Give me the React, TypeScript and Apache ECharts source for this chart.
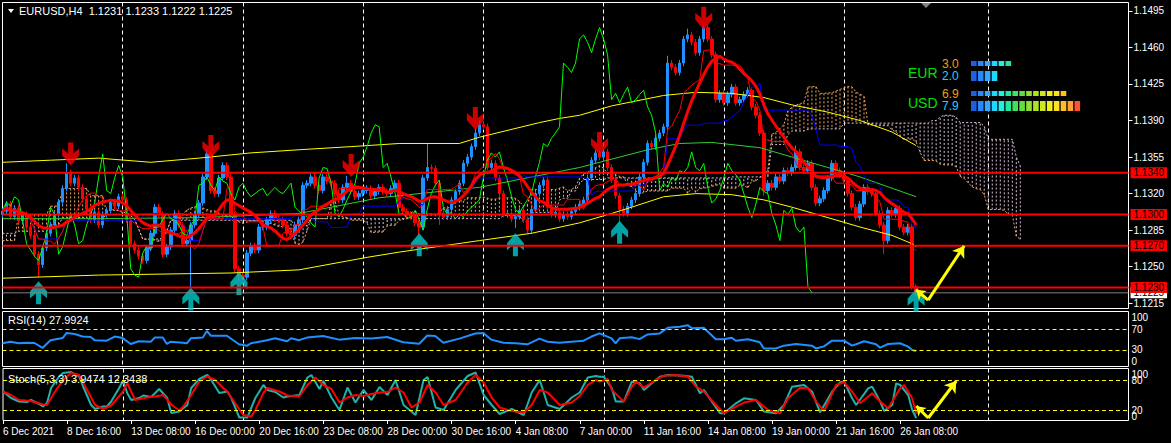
import React, { useEffect, useRef } from 'react';
import * as echarts from 'echarts';

const FONT = 'Liberation Sans, Arial, sans-serif';

// ---------------- time axis ----------------
const tickLabels = ['6 Dec 2021', '8 Dec 16:00', '13 Dec 08:00', '16 Dec 00:00', '20 Dec 16:00', '23 Dec 08:00', '28 Dec 00:00', '30 Dec 16:00', '4 Jan 08:00', '7 Jan 00:00', '11 Jan 16:00', '14 Jan 08:00', '19 Jan 00:00', '21 Jan 16:00', '26 Jan 08:00'];
const LABEL_EVERY = 16;
const SLOT_COUNT = 282;
const weekGridBars = [30, 60, 90, 120, 150, 180, 210, 246];

// ---------------- price axis ----------------
const priceTicks = [1.1215, 1.125, 1.1285, 1.132, 1.1355, 1.139, 1.1425, 1.146, 1.1495];
const PRICE_MIN = 1.121;
const PRICE_MAX = 1.1503;
const levelLines = [1.134, 1.13, 1.127, 1.123];
const bidPrice = 1.1225;

// ---------------- candles (H4 closes) ----------------
const firstOpen = 1.13;
const closes = [
  1.1303, 1.1310, 1.1298, 1.1306, 1.1294, 1.1300, 1.1288, 1.1280, 1.1262, 1.1252,
  1.1268, 1.1282, 1.1290, 1.1300, 1.1312, 1.1325, 1.1340, 1.1330, 1.1335, 1.1326,
  1.1315, 1.1305, 1.1295, 1.1302, 1.1290, 1.1300, 1.1304, 1.1312, 1.1308, 1.1317,
  1.1314, 1.1295, 1.1272, 1.1266, 1.1260, 1.1256, 1.1268, 1.1282, 1.1307, 1.1300,
  1.1262, 1.1269, 1.1285, 1.1301, 1.1290, 1.1272, 1.1275, 1.1290, 1.1300, 1.1311,
  1.1336, 1.1358, 1.1323, 1.1320, 1.1335, 1.1347, 1.1336, 1.1300, 1.1248, 1.1242,
  1.1240, 1.1263, 1.1270, 1.1266, 1.1288, 1.1288, 1.1295, 1.1301, 1.1296, 1.1295,
  1.1290, 1.1282, 1.1280, 1.1290, 1.1295, 1.1328, 1.1330, 1.1336, 1.1328, 1.1323,
  1.1336, 1.1332, 1.1330, 1.1320, 1.1314, 1.1326, 1.1330, 1.1322, 1.1317, 1.1320,
  1.1323, 1.1325, 1.1318, 1.1322, 1.1326, 1.1322, 1.1320, 1.1325, 1.1330, 1.1307,
  1.1303, 1.1300, 1.1298, 1.1292, 1.1288, 1.1335, 1.1345, 1.1344, 1.1330, 1.1301,
  1.1298, 1.1305, 1.1314, 1.1322, 1.1330, 1.1349, 1.1355, 1.1365, 1.1378, 1.1386,
  1.1384, 1.1345, 1.1349, 1.1335, 1.1320, 1.1300, 1.1301, 1.1296, 1.1298, 1.1304,
  1.1295, 1.1285, 1.1305, 1.1320, 1.1328, 1.1333, 1.1307, 1.1300, 1.1302, 1.1296,
  1.1300, 1.1298, 1.1303, 1.1307, 1.1310, 1.1314, 1.1335, 1.1352, 1.1359, 1.1355,
  1.1360, 1.1345, 1.1333, 1.1318, 1.1305, 1.1301, 1.1308, 1.1314, 1.1320, 1.1336,
  1.1350, 1.1368, 1.1365, 1.1373, 1.1378, 1.1384, 1.1445, 1.1441, 1.1436, 1.1445,
  1.1468, 1.1472, 1.1465, 1.1455, 1.1468, 1.1479, 1.1468, 1.1453, 1.1410, 1.1416,
  1.1407, 1.1415, 1.1422, 1.1407, 1.1410, 1.1415, 1.1419, 1.1403, 1.1395, 1.1378,
  1.1323, 1.1330, 1.1326, 1.1336, 1.1332, 1.1342, 1.1340, 1.1345, 1.1360, 1.1345,
  1.1342, 1.1349, 1.1326, 1.1311, 1.1315, 1.1323, 1.1335, 1.1349, 1.1342, 1.1338,
  1.1333, 1.1320, 1.1307, 1.1297, 1.1310, 1.1326, 1.1322, 1.1320, 1.1301, 1.1290,
  1.1275, 1.1304, 1.1300, 1.1306, 1.1288, 1.1283, 1.1288, 1.1231, 1.1225,
];
const highSpikes = [[16, 1.1349], [51, 1.1362], [86, 1.1337], [106, 1.1368], [118, 1.1382], [119, 1.139], [149, 1.1362], [166, 1.1452], [171, 1.1478], [175, 1.1481], [189, 1.1398], [198, 1.1366], [228, 1.1233]];
const lowSpikes = [[9, 1.124], [47, 1.123], [59, 1.1236], [104, 1.128], [109, 1.129], [128, 1.1287], [154, 1.1293], [190, 1.1318], [220, 1.1262], [227, 1.1228], [228, 1.1222]];
const WICK = 0.0003;

// signal arrows [bar, price at arrow tip]
const redArrows = [[17, 1.1347], [52, 1.1354], [87, 1.1336], [118, 1.1381], [149, 1.1357], [175, 1.1477]];
const cyanArrows = [[9, 1.1236], [47, 1.123], [59, 1.1245], [104, 1.1282], [128, 1.1282], [154, 1.1294], [228, 1.1229]];

// Bollinger-type bands [bar, price]
const bbUpper = [[0, 1.135], [12, 1.1352], [24, 1.1354], [37, 1.135], [49, 1.1354], [62, 1.1359], [74, 1.1362], [87, 1.1365], [99, 1.1368], [114, 1.1368], [119, 1.1374], [134, 1.1388], [139, 1.1392], [144, 1.1395], [152, 1.1404], [165, 1.1414], [173, 1.1417], [182, 1.1416], [190, 1.1412], [197, 1.1405], [206, 1.1398], [214, 1.139], [222, 1.1379], [228, 1.1366]];
const bbLower = [[0, 1.1239], [24, 1.1242], [57, 1.1244], [74, 1.1247], [91, 1.1259], [99, 1.1264], [119, 1.1275], [132, 1.1282], [144, 1.1292], [152, 1.1301], [157, 1.1307], [165, 1.1317], [173, 1.132], [182, 1.1319], [190, 1.1314], [197, 1.1307], [206, 1.1297], [214, 1.1288], [222, 1.128], [227, 1.1272], [228, 1.1269]];
const bbMiddle = [[0, 1.1296], [24, 1.1296], [49, 1.1297], [74, 1.1301], [94, 1.1316], [119, 1.1326], [144, 1.1345], [161, 1.1362], [169, 1.1368], [177, 1.1369], [189, 1.1364], [206, 1.1345], [214, 1.1336], [228, 1.1317]];

// cloud before the first computable value (bars 0..25)
const earlySpanA = [1.1275, 1.1275, 1.1275, 1.1275, 1.13, 1.13, 1.13, 1.13, 1.13, 1.13, 1.13, 1.13, 1.1308, 1.1308, 1.1308, 1.1325, 1.1325, 1.1325, 1.1325, 1.1325, 1.1325, 1.1325, 1.1318, 1.1318, 1.1318, 1.1318];
const earlySpanB = [1.1282, 1.1282, 1.1282, 1.1282, 1.1284, 1.1284, 1.1284, 1.1284, 1.1284, 1.1284, 1.1284, 1.1284, 1.129, 1.129, 1.129, 1.1297, 1.1297, 1.1297, 1.1297, 1.1297, 1.1297, 1.1297, 1.1295, 1.1295, 1.1295, 1.1295];
const SMA_PERIOD = 14;

// RSI(14) [bar, value]
const rsiPoints = [[0, 43], [2, 46], [4, 43], [6, 44], [8, 43.5], [10, 34], [11, 41.6], [12, 49], [15, 53], [16, 63], [18, 61], [20, 56], [22, 55], [23, 49], [26, 48], [28, 56], [30, 53], [32, 41.6], [34, 47], [37, 46], [38, 54], [40, 54], [41, 41.6], [42, 46], [45, 44], [46, 43], [47, 52.6], [50, 54], [51, 66.7], [52, 57.6], [56, 57.6], [59, 41], [61, 38], [62, 43], [66, 49], [68, 52.6], [71, 47], [72, 52.6], [74, 49],
  [76, 54], [80, 57], [84, 50], [88, 53], [92, 52], [96, 55], [100, 45], [104, 42], [106, 58], [108, 57], [110, 44], [114, 52], [118, 62], [120, 63], [122, 50], [125, 44], [128, 43], [131, 41], [134, 52], [136, 46], [139, 44], [142, 46], [145, 48], [147, 56],
  [149, 62], [152, 52.5], [153, 43], [154, 52.5], [157, 54.6], [159, 51], [161, 60], [164, 62], [166, 73], [169, 75], [171, 78], [172, 72], [175, 73], [178, 50.6], [180, 50.6], [182, 53.8], [183, 48], [186, 50.6], [189, 45], [190, 33], [193, 33], [195, 38.4], [198, 41.6], [202, 38.4], [203, 33], [205, 37], [207, 48], [210, 48], [212, 38.4], [213, 41], [215, 47], [218, 41], [219, 34.6], [221, 41.6], [224, 43], [226, 36.5], [227, 30], [228, 28]];
const rsiLast = 27.9924;
const rsiTicks = [0, 30, 70, 100];
const rsiLevels = [30, 70];

// Stochastic(5,3,3) [bar, value]
const stochK = [[0, 57], [2, 44], [4, 37], [6, 36], [7, 40], [9, 32], [10, 27], [11, 34], [12, 64], [14, 87], [15, 94], [17, 96], [19, 87], [20, 67], [22, 30], [23, 22], [25, 27], [26, 27], [27, 37], [29, 64], [30, 79], [31, 54], [32, 40], [34, 44], [35, 49], [37, 46], [39, 62], [41, 44], [42, 14], [44, 17], [46, 30], [47, 64], [49, 82], [51, 90], [52, 80], [54, 54], [56, 57], [57, 44], [59, 5], [61, 5], [63, 44], [65, 70], [66, 60], [68, 56], [70, 45], [71, 47], [74, 50],
  [76, 85], [77, 90], [79, 62], [80, 78], [82, 45], [84, 20], [86, 65], [88, 35], [90, 60], [92, 40], [94, 66], [96, 50], [98, 80], [100, 30], [103, 10], [105, 80], [106, 86], [108, 25], [110, 20], [113, 60], [116, 88], [118, 95], [120, 50], [122, 30], [124, 12], [127, 22], [130, 10], [132, 55], [134, 80], [136, 30], [139, 22], [142, 45], [144, 55], [146, 85], [148, 88],
  [149, 86.7], [150, 86.7], [152, 63.4], [153, 36.8], [155, 36.8], [157, 76.7], [159, 73.4], [160, 60], [162, 73.4], [164, 86.7], [166, 90], [170, 88.7], [172, 86.7], [174, 53.4], [175, 60], [177, 36.8], [179, 13.5], [180, 13.5], [183, 33.4], [185, 43.4], [188, 40], [190, 16.8], [193, 13.5], [195, 30], [197, 66.7], [200, 70], [202, 56.7], [204, 15.4], [207, 56.7], [209, 75.4], [210, 76.7], [212, 43.4], [213, 30], [216, 63.4], [217, 66.7], [219, 36.8], [220, 18], [222, 30], [223, 73.4], [224, 70], [226, 50], [227, 20], [228, 3.9474]];
const stochD = [[0, 57], [2, 50], [4, 40], [7, 38], [10, 31], [11, 30], [13, 57], [15, 80], [17, 94], [19, 90], [21, 60], [23, 30], [25, 22], [27, 29], [30, 57], [31, 74], [32, 57], [33, 40], [36, 45], [38, 47], [40, 50], [42, 31], [44, 19], [45, 27], [47, 50], [49, 77], [51, 87], [53, 80], [55, 64], [56, 57], [58, 33], [60, 10], [62, 7], [63, 20], [65, 54], [66, 64], [69, 57], [71, 49], [74, 47],
  [76, 70], [78, 85], [80, 70], [82, 62], [84, 35], [86, 45], [88, 50], [90, 48], [92, 52], [94, 55], [96, 56], [98, 65], [100, 55], [102, 25], [104, 35], [106, 70], [108, 55], [110, 30], [113, 40], [116, 75], [118, 90], [120, 75], [122, 45], [124, 25], [127, 18], [130, 15], [132, 30], [134, 60], [136, 55], [139, 30], [142, 35], [144, 48], [146, 70], [148, 80],
  [149, 76.7], [151, 82], [152, 60], [155, 36.8], [157, 66.7], [158, 76.7], [160, 64.7], [163, 80], [165, 88.7], [168, 90], [171, 86.7], [173, 66.7], [175, 56.7], [178, 30], [180, 13.5], [183, 26.8], [185, 34.8], [188, 40], [191, 20], [194, 13.5], [196, 43.4], [199, 64.7], [201, 63.4], [203, 36.8], [205, 18], [208, 70], [210, 75.4], [212, 56.7], [214, 33.4], [217, 53.4], [219, 36.8], [221, 23.4], [224, 63.4], [225, 70], [227, 43.4], [228, 12.3438]];
const stochKLast = 3.9474;
const stochDLast = 12.3438;
const stochLevels = [20, 80];
const stochScaleEnds = [100, 0];

// hand-drawn yellow arrows
const mainArrow = [[228, 1.1228], [231, 1.1218], [240, 1.127]];
const stochArrow = [[228, 28], [231, 4], [238, 78]];

// currency strength meter
const meterCurrencies = ['EUR', 'USD'];
const meterTop = [3.0, 6.9];
const meterBottom = [2.0, 7.9];
const meterColors = ['#2060e0', '#2888ff', '#30a8ff', '#20d8ff', '#20f0e0', '#20e8a0', '#40e060', '#60e040', '#90e030', '#b0e020', '#d0e820', '#f0f020', '#ffe020', '#ffc020', '#ffa030', '#ff5030'];

// ---------------- derived ----------------
const N = closes.length;
const opens = closes.map((c, i) => (i === 0 ? firstOpen : closes[i - 1]));
const highs = closes.map((c, i) => Math.max(opens[i], c) + WICK);
const lows = closes.map((c, i) => Math.min(opens[i], c) - WICK);
highSpikes.forEach(([i, v]) => { highs[i] = Math.max(v, opens[i], closes[i]); });
lowSpikes.forEach(([i, v]) => { lows[i] = Math.min(v, opens[i], closes[i]); });

function midRange(end: number, len: number) {
  const s = Math.max(0, end - len + 1);
  let mx = -Infinity;
  let mn = Infinity;
  for (let k = s; k <= end; k++) {
    mx = Math.max(mx, highs[k]);
    mn = Math.min(mn, lows[k]);
  }
  return (mx + mn) / 2;
}
const tenkan = closes.map((_, i) => midRange(i, 9));
const kijun = closes.map((_, i) => midRange(i, 26));
const spanA: number[] = [];
const spanB: number[] = [];
for (let i = 0; i < 26; i++) { spanA[i] = earlySpanA[i]; spanB[i] = earlySpanB[i]; }
for (let i = 0; i < N; i++) {
  spanA[i + 26] = (tenkan[i] + kijun[i]) / 2;
  spanB[i + 26] = midRange(i, 52);
}
const sma = closes.map((_, i) => {
  const s = Math.max(0, i - SMA_PERIOD + 1);
  let t = 0;
  for (let k = s; k <= i; k++) t += closes[k];
  return t / (i - s + 1);
});
const chikou = closes.slice(26).map((c, j) => [j, c]);

const isLabelBar = (i: number) => i % LABEL_EVERY === 0 && i / LABEL_EVERY < tickLabels.length;
const weekSet = new Set(weekGridBars);
const xCats = Array.from({ length: SLOT_COUNT }, (_, i) => String(i));

function oscLabel(v: number, top: number, bottom: number) {
  if (v === top) return `{t|${v}}`;
  if (v === bottom) return `{b|${v}}`;
  return String(v);
}

function buildOption() {
  const gridBase = { show: true, borderColor: '#ffffff', borderWidth: 1, backgroundColor: 'transparent' };
  const grid = [
    { ...gridBase, left: 2.5, top: 2.5, width: 1126, height: 306 },
    { ...gridBase, left: 2.5, top: 311.5, width: 1126, height: 55 },
    { ...gridBase, left: 2.5, top: 368.5, width: 1126, height: 52 },
  ];
  const xAxis = [0, 1, 2].map((gi) => ({
    type: 'category',
    gridIndex: gi,
    data: xCats,
    boundaryGap: false,
    axisLine: { show: false },
    axisTick: gi === 2
      ? { show: true, interval: (i: number) => isLabelBar(i), length: 4, lineStyle: { color: '#ffffff' } }
      : { show: false },
    axisLabel: gi === 2
      ? {
        show: true,
        interval: (i: number) => isLabelBar(i),
        formatter: (v: string) => { const i = Number(v); return isLabelBar(i) ? tickLabels[i / LABEL_EVERY] : ''; },
        color: '#ffffff', fontSize: 10, fontFamily: FONT, align: 'left', margin: 6,
      }
      : { show: false },
    splitLine: { show: true, interval: (i: number) => weekSet.has(i), lineStyle: { color: '#ffffff', type: [4, 3], width: 1 } },
  }));
  const yLabel = { color: '#ffffff', fontSize: 10, fontFamily: FONT, margin: 5 };
  const yAxis = [
    {
      type: 'value', gridIndex: 0, position: 'right', min: PRICE_MIN, max: PRICE_MAX,
      axisLine: { show: false }, splitLine: { show: false },
      axisTick: { show: true, length: 4, lineStyle: { color: '#ffffff' }, customValues: priceTicks },
      axisLabel: { ...yLabel, customValues: priceTicks, formatter: (v: number) => v.toFixed(4) },
    },
    {
      type: 'value', gridIndex: 1, position: 'right', min: -1.9, max: 104.4,
      axisLine: { show: false }, splitLine: { show: false },
      axisTick: { show: false, customValues: rsiTicks },
      axisLabel: {
        ...yLabel, margin: 3, customValues: rsiTicks,
        formatter: (v: number) => oscLabel(v, 100, 0),
        rich: { t: { padding: [8, 0, 0, 0], fontSize: 10, color: '#ffffff' }, b: { padding: [0, 0, 8, 0], fontSize: 10, color: '#ffffff' } },
      },
    },
    {
      type: 'value', gridIndex: 2, position: 'right', min: -1, max: 103,
      axisLine: { show: false }, splitLine: { show: false },
      axisTick: { show: false, customValues: stochLevels },
      axisLabel: { ...yLabel, margin: 3, customValues: stochLevels, formatter: (v: number) => String(v) },
    },
  ];

  const cloudData = spanA.map((a, i) => [i, a, spanB[i]]);
  const lineBase = { type: 'line', symbol: 'none', silent: true, smooth: false, xAxisIndex: 0, yAxisIndex: 0 };
  const arrowDown = 'path://M6,0 L11,0 L11,11 L17,6 L17,13 L8.5,23 L0,13 L0,6 L6,11 Z';
  const arrowUp = 'path://M6,23 L11,23 L11,12 L17,17 L17,10 L8.5,0 L0,10 L0,17 L6,12 Z';

  const levelSeries = (v: number, color: string, width: number, bg: string, z: number) => ({
    ...lineBase, z,
    data: [[0, v], [SLOT_COUNT - 1, v]],
    lineStyle: { color, width, type: 'solid' },
    endLabel: {
      show: true, distance: 2, fontSize: 10, fontFamily: FONT, color: '#000000',
      backgroundColor: bg, padding: [1, 3, 0, 3],
      formatter: (p: any) => Number(p.value[1]).toFixed(4),
    },
  });

  const series: any[] = [
    {
      type: 'custom', xAxisIndex: 0, yAxisIndex: 0, clip: true, silent: true, z: 1,
      data: cloudData,
      encode: { x: 0, y: [1, 2] },
      renderItem: (params: any, api: any) => {
        const i = api.value(0);
        const a = api.value(1);
        const b = api.value(2);
        const p1 = api.coord([i, a]);
        const p2 = api.coord([i, b]);
        return {
          type: 'line',
          shape: { x1: p1[0], y1: p1[1], x2: p2[0], y2: p2[1] },
          style: { stroke: a >= b ? '#f4a460' : '#d8bfd8', lineWidth: 1, lineDash: [2, 2] },
        };
      },
    },
    { ...lineBase, z: 1, data: spanA.map((v, i) => [i, v]), lineStyle: { color: '#f4a460', width: 1, type: [2, 2] } },
    { ...lineBase, z: 1, data: spanB.map((v, i) => [i, v]), lineStyle: { color: '#d8bfd8', width: 1, type: [2, 2] } },
    {
      type: 'candlestick', xAxisIndex: 0, yAxisIndex: 0, barWidth: 3, silent: true, z: 2,
      data: closes.map((c, i) => [opens[i], c, lows[i], highs[i]]),
      itemStyle: { color: '#1e90ff', borderColor: '#1e90ff', color0: '#ff0000', borderColor0: '#ff0000', borderWidth: 1 },
    },
    { ...lineBase, z: 3, data: bbUpper, lineStyle: { color: '#ffff00', width: 1 } },
    { ...lineBase, z: 3, data: bbLower, lineStyle: { color: '#ffff00', width: 1 } },
    { ...lineBase, z: 3, data: bbMiddle, lineStyle: { color: '#32cd32', width: 1 } },
    { ...lineBase, z: 3, data: chikou, lineStyle: { color: '#00ff00', width: 1 } },
    { ...lineBase, z: 3, data: kijun.map((v, i) => [i, v]), lineStyle: { color: '#0000ff', width: 1 } },
    { ...lineBase, z: 3, data: tenkan.map((v, i) => [i, v]), lineStyle: { color: '#ff0000', width: 1 } },
    { ...lineBase, z: 3, data: sma.map((v, i) => [i, v]), lineStyle: { color: '#ff0000', width: 3 } },
    {
      type: 'scatter', xAxisIndex: 0, yAxisIndex: 0, silent: true, z: 4,
      data: redArrows, symbol: arrowDown, symbolSize: [17, 23], symbolOffset: [0, '-50%'],
      itemStyle: { color: '#ff0000' },
    },
    {
      type: 'scatter', xAxisIndex: 0, yAxisIndex: 0, silent: true, z: 4,
      data: cyanArrows, symbol: arrowUp, symbolSize: [17, 23], symbolOffset: [0, '50%'],
      itemStyle: { color: '#00cccc' },
    },
    levelSeries(bidPrice, '#808080', 1, '#ffffff', 5),
    ...levelLines.map((v) => levelSeries(v, '#ff0000', 2, '#ff0000', 6)),
    {
      type: 'lines', coordinateSystem: 'cartesian2d', xAxisIndex: 0, yAxisIndex: 0, silent: true, z: 7,
      symbol: ['arrow', 'none'], symbolSize: 9,
      lineStyle: { color: '#ffff00', width: 3, opacity: 1 },
      data: [{ coords: [mainArrow[0], mainArrow[1]] }],
    },
    {
      type: 'lines', coordinateSystem: 'cartesian2d', xAxisIndex: 0, yAxisIndex: 0, silent: true, z: 7,
      symbol: ['none', 'arrow'], symbolSize: 11,
      lineStyle: { color: '#ffff00', width: 3, opacity: 1 },
      data: [{ coords: [mainArrow[1], mainArrow[2]] }],
    },
    // RSI
    {
      type: 'line', xAxisIndex: 1, yAxisIndex: 1, symbol: 'none', silent: true, z: 3,
      data: rsiPoints, lineStyle: { color: '#1e90ff', width: 2 },
      markLine: {
        silent: true, symbol: ['none', 'none'], animation: false, label: { show: false },
        lineStyle: { color: '#ffff00', width: 1, type: [4, 3] },
        data: rsiLevels.map((v) => ({ yAxis: v })),
      },
    },
    // Stochastic
    {
      type: 'line', xAxisIndex: 2, yAxisIndex: 2, symbol: 'none', silent: true, z: 3,
      data: stochK, lineStyle: { color: '#20b2aa', width: 2 },
      markLine: {
        silent: true, symbol: ['none', 'none'], animation: false, label: { show: false },
        lineStyle: { color: '#ffff00', width: 1, type: [4, 3] },
        data: stochLevels.map((v) => ({ yAxis: v })),
      },
    },
    { type: 'line', xAxisIndex: 2, yAxisIndex: 2, symbol: 'none', silent: true, z: 4, data: stochD, lineStyle: { color: '#ff0000', width: 2 } },
    {
      type: 'lines', coordinateSystem: 'cartesian2d', xAxisIndex: 2, yAxisIndex: 2, silent: true, z: 6,
      symbol: ['arrow', 'none'], symbolSize: 9,
      lineStyle: { color: '#ffff00', width: 3, opacity: 1 },
      data: [{ coords: [stochArrow[0], stochArrow[1]] }],
    },
    {
      type: 'lines', coordinateSystem: 'cartesian2d', xAxisIndex: 2, yAxisIndex: 2, silent: true, z: 6,
      symbol: ['none', 'arrow'], symbolSize: 11,
      lineStyle: { color: '#ffff00', width: 3, opacity: 1 },
      data: [{ coords: [stochArrow[1], stochArrow[2]] }],
    },
  ];

  const last = N - 1;
  const f4 = (v: number) => v.toFixed(4);
  const graphic: any[] = [
    { type: 'polygon', z: 100, shape: { points: [[8, 9], [14, 9], [11, 13]] }, style: { fill: '#ffffff' } },
    {
      type: 'text', z: 100, x: 19, y: 11,
      style: { text: `EURUSD,H4  ${f4(opens[last])} ${f4(highs[last])} ${f4(lows[last])} ${f4(closes[last])}`, fill: '#ffffff', fontSize: 11, fontFamily: FONT, verticalAlign: 'middle' },
    },
    { type: 'polygon', z: 100, shape: { points: [[921, 3], [931, 3], [926, 8]] }, style: { fill: '#808080' } },
    {
      type: 'text', z: 100, x: 8, y: 320,
      style: { text: `RSI(14) ${rsiLast.toFixed(4)}`, fill: '#ffffff', fontSize: 11, fontFamily: FONT, verticalAlign: 'middle' },
    },
    {
      type: 'text', z: 100, x: 8, y: 379,
      style: { text: `Stoch(5,3,3) ${stochKLast.toFixed(4)} ${stochDLast.toFixed(4)}`, fill: '#ffffff', fontSize: 11, fontFamily: FONT, verticalAlign: 'middle' },
    },
    // stochastic scale ends, drawn just inside the panel as in the terminal
    {
      type: 'text', z: 100, x: 1131.5, y: 374,
      style: { text: String(stochScaleEnds[0]), fill: '#ffffff', fontSize: 10, fontFamily: FONT, verticalAlign: 'middle' },
    },
    {
      type: 'text', z: 100, x: 1131.5, y: 416,
      style: { text: String(stochScaleEnds[1]), fill: '#ffffff', fontSize: 10, fontFamily: FONT, verticalAlign: 'middle' },
    },
  ];
  meterCurrencies.forEach((cur, r) => {
    const baseY = 61 + r * 30;
    graphic.push({ type: 'text', z: 100, x: 908, y: baseY + 12, style: { text: cur, fill: '#00e000', fontSize: 14, fontFamily: FONT, verticalAlign: 'middle' } });
    graphic.push({ type: 'text', z: 100, x: 942, y: baseY + 2.5, style: { text: meterTop[r].toFixed(1), fill: '#f0a000', fontSize: 12, fontFamily: FONT, verticalAlign: 'middle' } });
    graphic.push({ type: 'text', z: 100, x: 942, y: baseY + 14.5, style: { text: meterBottom[r].toFixed(1), fill: '#20d0ff', fontSize: 12, fontFamily: FONT, verticalAlign: 'middle' } });
    const nTop = Math.round(meterTop[r] * 2);
    const nBot = Math.round(meterBottom[r] * 2);
    for (let k = 0; k < nTop; k++) {
      graphic.push({ type: 'rect', z: 100, shape: { x: 971 + k * 6.9, y: baseY, width: 5.6, height: 5 }, style: { fill: meterColors[k] } });
    }
    for (let k = 0; k < nBot; k++) {
      graphic.push({ type: 'rect', z: 100, shape: { x: 971 + k * 6.9, y: baseY + 10, width: 5.6, height: 10 }, style: { fill: meterColors[k] } });
    }
  });

  return {
    animation: false,
    backgroundColor: '#000000',
    textStyle: { fontFamily: FONT },
    grid,
    xAxis,
    yAxis,
    series,
    graphic,
  };
}

export default function App() {
  const ref = useRef<HTMLDivElement>(null);
  useEffect(() => {
    document.body.style.margin = '0';
    document.body.style.background = '#000';
    const chart = echarts.init(ref.current as HTMLDivElement, null, { renderer: 'svg' });
    chart.setOption(buildOption() as any);
    return () => chart.dispose();
  }, []);
  return <div ref={ref} style={{ width: 1171, height: 443, background: '#000' }} />;
}
